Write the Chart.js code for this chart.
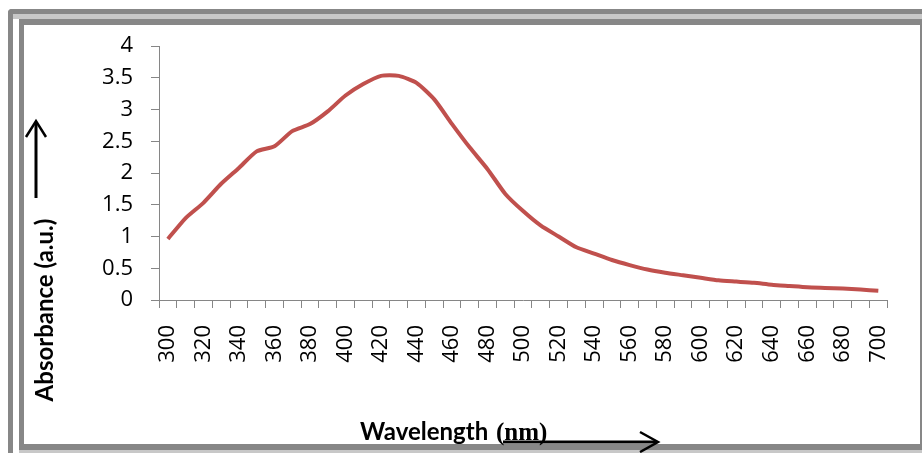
<!DOCTYPE html>
<html lang="en">
<head>
  <meta charset="UTF-8" />
  <title>Absorbance spectrum</title>
  <script src="https://cdn.jsdelivr.net/npm/chart.js"></script>
  <style>
    html, body { margin: 0; padding: 0; background: #fff; }
    #wrap { position: relative; width: 922px; height: 453px; overflow: hidden; }
    .abs { position: absolute; }
    #outer { left: 8px; top: 9px; width: 940px; height: 470px; border-left: 5px solid #878787; border-top: 5px solid #878787; border-top-left-radius: 4px; box-sizing: border-box; }
    #strip { left: 13px; top: 14px; width: 920px; height: 5px; background: #c8c8c8; }
    #inner { left: 19px; top: 19px; width: 903px; height: 431px; box-sizing: border-box; border: 6px solid #878787; border-left-width: 5px; border-right-width: 2px; background: #fff; }
    #bottomStrip { left: 19px; top: 450px; width: 903px; height: 3px; background: #c8c8c8; }
    #chart { left: 0; top: 0; }
    #overlay { left: 0; top: 0; pointer-events: none; }
  </style>
</head>
<body>
  <div id="wrap">
    <div id="outer" class="abs"></div>
    <div id="strip" class="abs"></div>
    <div id="inner" class="abs"></div>
    <div id="bottomStrip" class="abs"></div>
    <canvas id="chart" class="abs" width="922" height="453"></canvas>
    <svg id="overlay" class="abs" width="922" height="453">
      <text transform="translate(53,310) rotate(-90)" text-anchor="middle"
            font-family="Lato" font-weight="bold" font-size="24" fill="#000">Absorbance (a.u.)</text>
      <line x1="36" y1="198" x2="36" y2="122" stroke="#000" stroke-width="3" />
      <polyline points="26,137 36,121 46,137" fill="none" stroke="#000" stroke-width="2.5" />
      <text x="360" y="440" font-family="Lato" font-weight="bold" font-size="24" fill="#000">Wavelength</text>
      <text x="496" y="440" font-family="Liberation Serif" font-weight="bold" font-size="25" fill="#000">(nm)</text>
      <line x1="503" y1="442" x2="657" y2="442" stroke="#000" stroke-width="3" />
      <polyline points="640,432 658,442 640,452" fill="none" stroke="#000" stroke-width="2.5" />
    </svg>
  </div>

  <script>
    const wavelengths = [300, 310, 320, 330, 340, 350, 360, 370, 380, 390,
                         400, 410, 420, 430, 440, 450, 460, 470, 480, 490,
                         500, 510, 520, 530, 540, 550, 560, 570, 580, 590,
                         600, 610, 620, 630, 640, 650, 660, 670, 680, 690, 700];
    const absorbance = [0.96, 1.29, 1.53, 1.83, 2.08, 2.34, 2.42, 2.66, 2.77, 2.97,
                        3.22, 3.40, 3.53, 3.53, 3.42, 3.16, 2.77, 2.40, 2.06, 1.67,
                        1.40, 1.17, 1.00, 0.83, 0.73, 0.63, 0.55, 0.48, 0.43, 0.39,
                        0.35, 0.31, 0.29, 0.27, 0.24, 0.22, 0.20, 0.19, 0.18, 0.165, 0.145];
    const yTicks = [0, 0.5, 1, 1.5, 2, 2.5, 3, 3.5, 4];

    const axisGrey = '#868686';
    const tickFont = { family: 'Open Sans', size: 22 };

    new Chart(document.getElementById('chart'), {
      type: 'line',
      data: {
        labels: wavelengths,
        datasets: [{
          data: absorbance,
          borderColor: '#c0504d',
          borderWidth: 4,
          pointRadius: 0,
          tension: 0.2,
          fill: false
        }]
      },
      options: {
        responsive: false,
        animation: false,
        layout: { padding: { left: 0, top: 46, right: 23, bottom: 0 } },
        plugins: { legend: { display: false }, tooltip: { enabled: false } },
        scales: {
          x: {
            type: 'category',
            offset: true,
            grid: { display: true, drawOnChartArea: false, offset: true, color: axisGrey, tickLength: 8 },
            border: { color: axisGrey },
            ticks: {
              autoSkip: false,
              minRotation: 90,
              maxRotation: 90,
              padding: 17,
              color: '#000',
              font: tickFont,
              callback: (v, i) => (i % 2 === 0 ? String(wavelengths[i]) : '')
            },
            afterFit: s => { s.height = 153; }
          },
          y: {
            min: 0,
            max: 4,
            afterBuildTicks: s => { s.ticks = yTicks.map(v => ({ value: v })); },
            grid: { display: true, drawOnChartArea: false, color: axisGrey, tickLength: 8 },
            border: { color: axisGrey },
            ticks: { padding: 18, color: '#000', font: tickFont, callback: v => String(v) },
            afterFit: s => { s.width = 159; }
          }
        }
      }
    });
  </script>
</body>
</html>
